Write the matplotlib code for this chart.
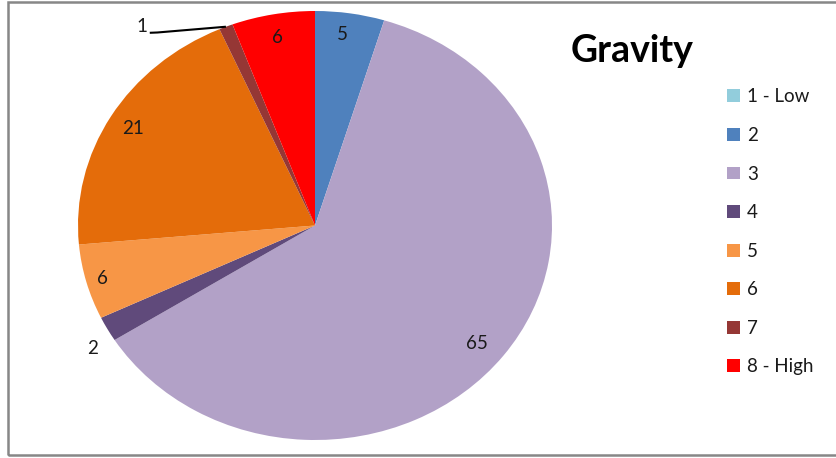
import numpy as np
import matplotlib
matplotlib.use("Agg")
import matplotlib.pyplot as plt
from matplotlib.patches import Rectangle, Patch

categories = ["1 - Low", "2", "3", "4", "5", "6", "7", "8 - High"]
values = [0, 5, 65, 2, 6, 21, 1, 6]
colors = ["#92CDDC", "#4F81BD", "#B2A1C7", "#604A7B", "#F79646", "#E46C0A", "#953735", "#FF0000"]
title = "Gravity"

# label radial distance (fraction of radius) per slice
label_dist = [0.0, 0.90, 0.88, 1.10, 0.93, 0.89, 1.18, 0.89]
label_angle_shift = [0, 1, -1.5, 2.5, 0, 0, 16.2, 0]

plt.rcParams['font.family'] = ['Lato', 'DejaVu Sans']

W, H = 837, 458
fig = plt.figure(figsize=(W / 100, H / 100), dpi=100)

# frame
fig.patches.append(Rectangle((8 / W, 3 / H), (W + 20) / W, 453 / H, transform=fig.transFigure,
                             fill=False, edgecolor="#878787", linewidth=1.8, zorder=0))

cx, cy, rx, ry = 315, 225.5, 237, 214.5
ax = fig.add_axes([(cx - rx) / W, (H - cy - ry) / H, 2 * rx / W, 2 * ry / H])
wedges, _ = ax.pie(values, colors=colors, startangle=90, counterclock=False,
                   wedgeprops=dict(linewidth=0, antialiased=True))
ax.set_aspect('auto')
ax.set_xlim(-1, 1)
ax.set_ylim(-1, 1)
ax.axis('off')

lab_fs = 13.5
for i, (w, v) in enumerate(zip(wedges, values)):
    if v == 0:
        continue
    mid = np.deg2rad((w.theta1 + w.theta2) / 2)
    ang = mid + np.deg2rad(label_angle_shift[i])
    d = label_dist[i]
    tx, ty = d * np.cos(ang), d * np.sin(ang)
    ax.text(tx, ty, str(v), fontsize=lab_fs, ha='center', va='center', color='#1a1a1a')
    if i == 6:
        # leader line from just right/below the label to the slice edge
        ex, ey = np.cos(mid), np.sin(mid)
        sx, sy = tx + 8 / rx, ty - 6 / ry
        ax.plot([sx, sx + 0.1 * (ex - sx), ex], [sy, sy + 0.05 * (ey - sy), ey],
                color='black', lw=1.5, solid_capstyle='butt', clip_on=False)

fig.text(632 / W, 1 - 62 / H, title, fontsize=27, fontweight='bold', ha='center', va='baseline',
         color='black')

handles = [Patch(facecolor=c, edgecolor='none') for c in colors]
leg = fig.legend(handles, categories, loc='upper left', bbox_to_anchor=(727 / W, 1 - 88.5 / H),
                 frameon=False, fontsize=13.5, handlelength=0.68, handleheight=0.68,
                 handletextpad=0.4, labelspacing=1.15, borderaxespad=0, borderpad=0)
for t in leg.get_texts():
    t.set_color('#1a1a1a')

fig.savefig("out.png", dpi=100)
